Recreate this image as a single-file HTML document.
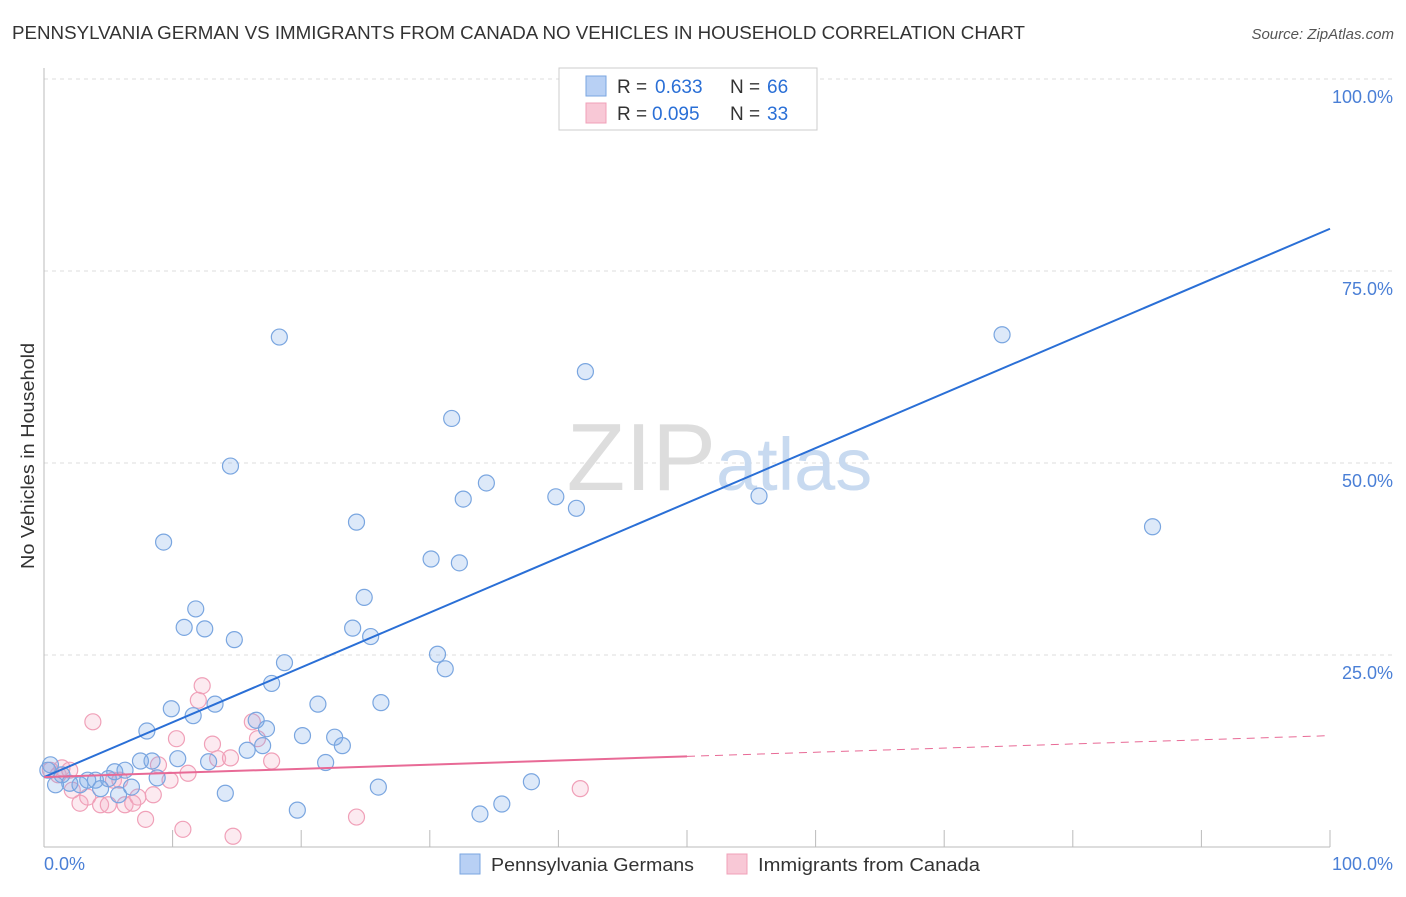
<!DOCTYPE html>
<html><head><meta charset="utf-8"><style>
body{margin:0;background:#fff;font-family:"Liberation Sans",sans-serif;}
svg text{font-family:"Liberation Sans",sans-serif;}
</style></head><body>
<svg width="1406" height="892" viewBox="0 0 1406 892">
<text x="12" y="39" font-size="18" fill="#333" textLength="1013" lengthAdjust="spacingAndGlyphs">PENNSYLVANIA GERMAN VS IMMIGRANTS FROM CANADA NO VEHICLES IN HOUSEHOLD CORRELATION CHART</text>
<text x="1394" y="39" font-size="15" fill="#555" text-anchor="end" font-style="italic">Source: ZipAtlas.com</text>
<g id="grid"></g>
<g id="xt"></g>
<text x="716" y="490" font-size="96" fill="#ddd" text-anchor="end" font-family="Liberation Serif">ZIP</text>
<text x="716" y="490" font-size="74" fill="#c8daf0">atlas</text>
<text transform="translate(34,456) rotate(-90)" font-size="18" fill="#333" text-anchor="middle" textLength="226" lengthAdjust="spacingAndGlyphs">No Vehicles in Household</text>
<text x="44" y="870" font-size="18" fill="#4a7fd6">0.0%</text>
<text x="1393" y="870" font-size="18" fill="#4a7fd6" text-anchor="end">100.0%</text>
<g id="pts"></g>
<g id="lines"></g>
<g>
<rect x="559" y="68" width="258" height="62" fill="#fff" stroke="#ccc"/>
<rect x="586" y="76" width="20" height="20" fill="#b8d0f4" stroke="#7aa6e0"/>
<rect x="586" y="103" width="20" height="20" fill="#f8c8d6" stroke="#f0a0b8"/>
<text x="617" y="93" font-size="19" fill="#333">R =</text>
<text x="655" y="93" font-size="19" fill="#2a6fd6">0.633</text>
<text x="730" y="93" font-size="19" fill="#333">N =</text>
<text x="767" y="93" font-size="19" fill="#2a6fd6">66</text>
<text x="617" y="120" font-size="19" fill="#333">R =</text>
<text x="652" y="120" font-size="19" fill="#2a6fd6">0.095</text>
<text x="730" y="120" font-size="19" fill="#333">N =</text>
<text x="767" y="120" font-size="19" fill="#2a6fd6">33</text>
</g>
<g>
<rect x="460" y="854" width="20" height="20" fill="#b8d0f4" stroke="#7aa6e0"/>
<text x="491" y="871" font-size="18" fill="#333" textLength="203" lengthAdjust="spacingAndGlyphs">Pennsylvania Germans</text>
<rect x="727" y="854" width="20" height="20" fill="#f8c8d6" stroke="#f0a0b8"/>
<text x="758" y="871" font-size="18" fill="#333" textLength="222" lengthAdjust="spacingAndGlyphs">Immigrants from Canada</text>
</g>
</svg>
<script>
const yTicks=[25,50,75,100];
const yTickLabels=["25.0%","50.0%","75.0%","100.0%"];
const xTicks=[0,10,20,30,40,50,60,70,80,90,100];
const blueX=[0.5,0.9,1.4,2,2.8,3.4,4,4.4,5,5.5,6.3,5.8,6.8,7.5,8,8.4,8.8,9.3,9.9,10.4,10.9,11.6,11.8,12.5,12.8,13.3,14.1,14.5,14.8,15.8,16.5,17,17.3,17.7,18.3,18.7,19.7,20.1,21.3,21.9,22.6,23.2,24,24.3,24.9,25.4,26,26.2,30.1,30.6,31.2,31.7,32.3,32.6,33.9,34.4,35.6,37.9,39.8,41.4,42.1,55.6,74.5,86.2,54.1,0.3];
const blueY=[10.7,8.1,9.4,8.3,8.1,8.7,8.7,7.6,8.9,9.8,10,6.8,7.8,11.2,15.1,11.2,9,39.7,18,11.5,28.6,17.1,31,28.4,11.1,18.6,7,49.6,27,12.6,16.5,13.2,15.4,21.3,66.4,24,4.8,14.5,18.6,11,14.3,13.2,28.5,42.3,32.5,27.4,7.8,18.8,37.5,25.1,23.2,55.8,37,45.3,4.3,47.4,5.6,8.5,45.6,44.1,61.9,45.7,66.7,41.7,99.9,10];
const pinkX=[0.5,1.1,1.4,2.2,2.8,3.4,3.8,4.4,5,5.4,5.9,6.3,6.9,7.3,7.9,8.5,8.9,9.8,10.3,10.8,11.2,12,12.3,13.1,13.5,14.5,14.7,16.2,16.6,17.7,24.3,41.7,2];
const pinkY=[10,9.4,10.3,7.4,5.7,6.5,16.3,5.5,5.5,8.7,8.7,5.5,5.7,6.5,3.6,6.8,10.7,8.7,14.1,2.3,9.6,19.1,21,13.4,11.5,11.6,1.4,16.3,14.1,11.2,3.9,7.6,10];
const blueLine=[9.1,80.5];
const pinkLine=[9.1,14.5];
const pinkSolidEnd=50;
const NS="http://www.w3.org/2000/svg";
const X0=44,X1=1330,Y0=847,Y100=79;
function sx(v){return X0+(X1-X0)*v/100;}
function sy(v){return Y0-(Y0-Y100)*v/100;}
function mk(t,a,p){const e=document.createElementNS(NS,t);for(const k in a)e.setAttribute(k,a[k]);p.appendChild(e);return e;}
const grid=document.getElementById('grid');
yTicks.forEach((t,i)=>{
 const l=mk('line',{x1:X0,x2:1394,y1:sy(t),y2:sy(t),stroke:'#ddd','stroke-dasharray':'4,4'},grid);
 
 
 const tx=mk('text',{x:1393,y:sy(t)+24,'font-size':18,fill:'#4a7fd6','text-anchor':'end'},grid);
 tx.textContent=yTickLabels[i];
 
 
});
const ax=mk('line',{x1:X0,x2:X0,y1:68,y2:Y0,stroke:'#bbb'},grid);


const bx=mk('line',{x1:X0,x2:X1,y1:Y0,y2:Y0,stroke:'#bbb'},grid);


const xt=document.getElementById('xt');
xTicks.forEach(t=>{
 const l=mk('line',{x1:sx(t),x2:sx(t),y1:830,y2:Y0,stroke:'#bbb'},xt);
 
 
});
const pts=document.getElementById('pts');
pinkX.forEach((x,i)=>{
 const c=mk('circle',{cx:sx(x),cy:sy(pinkY[i]),r:8,fill:'rgba(244,170,196,0.25)',stroke:'#f0a0b8','stroke-width':1.2},pts);
 
 
});
blueX.forEach((x,i)=>{
 const c=mk('circle',{cx:sx(x),cy:sy(blueY[i]),r:8,fill:'rgba(120,168,232,0.25)',stroke:'#7aa6e0','stroke-width':1.2},pts);
 
 
});
const lines=document.getElementById('lines');
const b=mk('line',{x1:sx(0),y1:sy(blueLine[0]),x2:sx(100),y2:sy(blueLine[1]),stroke:'#2a6fd6','stroke-width':2},lines);


const pm=pinkLine[0]+(pinkLine[1]-pinkLine[0])*pinkSolidEnd/100;
const p1=mk('line',{x1:sx(0),y1:sy(pinkLine[0]),x2:sx(pinkSolidEnd),y2:sy(pm),stroke:'#e86a96','stroke-width':2},lines);


const p2=mk('line',{x1:sx(pinkSolidEnd),y1:sy(pm),x2:sx(100),y2:sy(pinkLine[1]),stroke:'#e86a96','stroke-width':1,'stroke-dasharray':'8,6'},lines);


</script>
</body></html>
